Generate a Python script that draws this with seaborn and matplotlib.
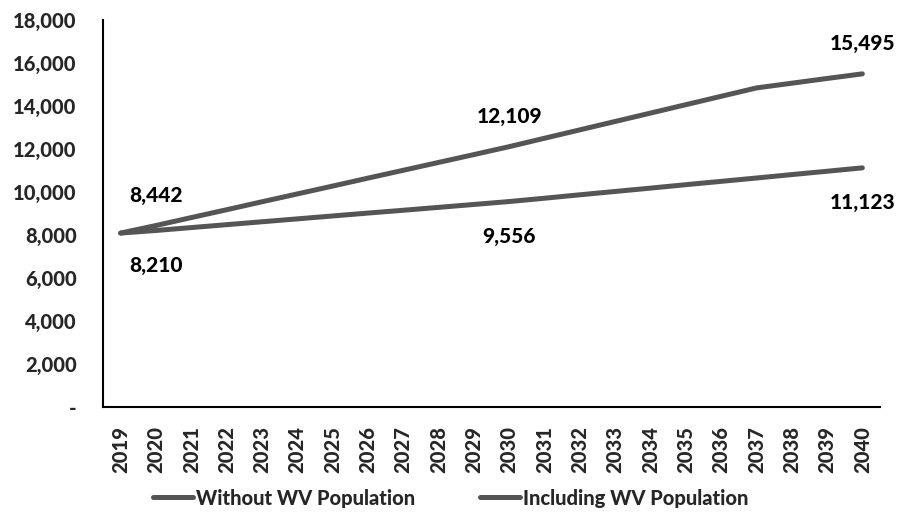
import matplotlib
matplotlib.use("Agg")
import matplotlib.pyplot as plt
import seaborn as sns
import pandas as pd

years = list(range(2019, 2041))
without_wv = [8090, 8210, 8345, 8480, 8615, 8750, 8885, 9020, 9150, 9285, 9420,
              9556, 9710, 9870, 10025, 10180, 10340, 10495, 10650, 10810, 10965, 11123]
including_wv = [8090, 8442, 8810, 9175, 9545, 9910, 10275, 10645, 11010, 11375, 11740,
                12109, 12500, 12890, 13280, 13670, 14060, 14450, 14840, 15060, 15280, 15495]
series_names = ["Without WV Population", "Including WV Population"]
labelled_years = [2020, 2030, 2040]
y_ticks = [0, 2000, 4000, 6000, 8000, 10000, 12000, 14000, 16000, 18000]

df = pd.concat([
    pd.DataFrame({"Year": years, "Population": without_wv, "Series": series_names[0]}),
    pd.DataFrame({"Year": years, "Population": including_wv, "Series": series_names[1]}),
])

sns.set_theme(style="white")
plt.rcParams["font.family"] = ["Lato", "DejaVu Sans"]
W = 900  # heaviest available face

line_color = "#555555"
fig = plt.figure(figsize=(9.01, 5.21), dpi=100)
ax = fig.add_axes([103 / 901, 1 - 407 / 521, (880 - 103) / 901, (407 - 20) / 521])

sns.lineplot(data=df, x="Year", y="Population", hue="Series", hue_order=series_names,
             palette=[line_color, line_color], linewidth=3.6, ax=ax,
             solid_capstyle="round")

ax.set_xlim(2018.5, 2040.5)
ax.set_ylim(0, 18000)
ax.set_xticks(years)
ax.set_xticklabels([str(y) for y in years], rotation=90, fontsize=14.5, fontweight=W)
ax.set_yticks(y_ticks)
ax.set_yticklabels(["-" if v == 0 else f"{v:,}" for v in y_ticks], fontsize=14.5,
                   fontweight=W)
ax.tick_params(axis="y", length=0, pad=19)
ax.tick_params(axis="x", length=0, pad=14)
ax.set_xlabel("")
ax.set_ylabel("")

for side in ["top", "right"]:
    ax.spines[side].set_visible(False)
for side in ["left", "bottom"]:
    ax.spines[side].set_color("black")
    ax.spines[side].set_linewidth(1.5)

# value labels: upper series above its line, lower series below
for yr in labelled_years:
    i = years.index(yr)
    ax.annotate(f"{including_wv[i]:,}", (yr, including_wv[i]), xytext=(0, 30),
                textcoords="offset pixels", ha="center", va="center",
                fontsize=15, fontweight=W, color="black")
    ax.annotate(f"{without_wv[i]:,}", (yr, without_wv[i]), xytext=(0, -35),
                textcoords="offset pixels", ha="center", va="center",
                fontsize=15, fontweight=W, color="black")

sns.move_legend(ax, "center", bbox_to_anchor=(0.5, 1 - 498 / 521),
                bbox_transform=fig.transFigure, ncol=2, frameon=False, title=None,
                fontsize=14.5, handlelength=2.0, columnspacing=3.2, handletextpad=0.15)
for txt in ax.get_legend().get_texts():
    txt.set_fontweight(W)

fig.savefig("out.png", dpi=100, facecolor="white")
